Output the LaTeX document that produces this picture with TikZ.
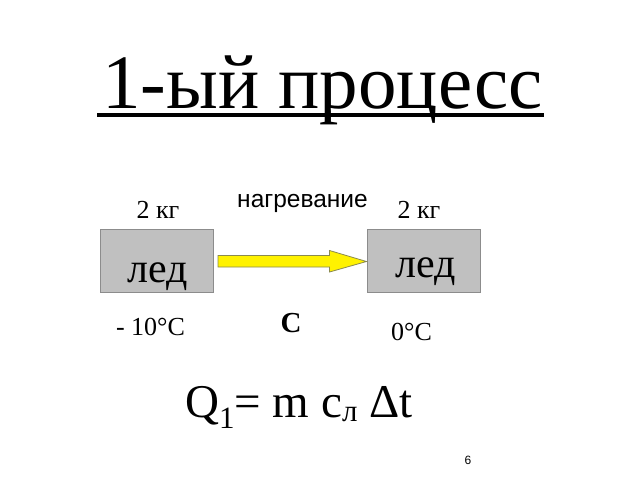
\documentclass[tikz,border=0pt]{standalone}
\usepackage{fontspec}
\setmainfont{Liberation Serif}
\newfontfamily\sansf{Liberation Sans}
\usetikzlibrary{calc}
\definecolor{boxgray}{HTML}{C0C0C0}
\definecolor{boxedge}{HTML}{8C8C8C}
\definecolor{arrowedge}{HTML}{8A8A50}
\newcommand{\fsz}[1]{\fontsize{#1}{#1}\selectfont}
\tikzset{
  icebox/.style={draw=boxedge, line width=1pt, fill=boxgray, minimum width=113pt, minimum height=63pt, inner sep=0pt},
  txt/.style={inner sep=0pt, anchor=base},
}
\begin{document}
\begin{tikzpicture}[x=1pt,y=-1pt]
\useasboundingbox (0,0) rectangle (640,480);
% title
\node[txt] (title) at (322.5,108) {\fsz{77}1-ый процесс};
\draw[line width=3.5pt] ([xshift=-5pt,yshift=-7pt]title.base west) -- ([xshift=1pt,yshift=-7pt]title.base east);
% boxes
\node[icebox] (L) at (157,261) {};
\node[icebox] (R) at (423.5,261) {};
\node[txt] (Ltxt) at (158,282) {\fsz{42}лед};
\node[txt] (Rtxt) at (425.5,277) {\fsz{42}лед};
% arrow connector
\coordinate (as) at ([xshift=4pt]L.east);
\coordinate (ae) at (R.west);
\draw[draw=arrowedge, line width=0.8pt, fill=yellow, line join=miter]
  ($(as)+(0,-5.5)$) -- ($(ae)+(-37,-5.5)$) -- ($(ae)+(-37,-10.5)$) -- ($(ae)+(0,0.5)$)
  -- ($(ae)+(-37,11)$) -- ($(ae)+(-37,6)$) -- ($(as)+(0,6)$) -- cycle;
% labels
\node[txt] (m1) at (158,218) {\fsz{26}2 кг};
\node[txt] (m2) at (419,218) {\fsz{26}2 кг};
\node[txt] (heat) at (302.5,207) {\sansf\fsz{24.5}нагревание};
\node[txt] (t1) at (150.5,335) {\fsz{26}- 10°C};
\node[txt] (c) at (291,332) {\fsz{29}\bfseries C};
\node[txt] (t2) at (411.5,340) {\fsz{26}0°C};
% formula
\node[txt, anchor=base west] (f) at (185,417) {\fsz{47}Q\raisebox{-11pt}{\fsz{31}1}= m c\raisebox{-4pt}{\fsz{31}л} Δt};
% page number
\node[txt] (pg) at (468,464) {\sansf\fsz{12}6};
\end{tikzpicture}
\end{document}
